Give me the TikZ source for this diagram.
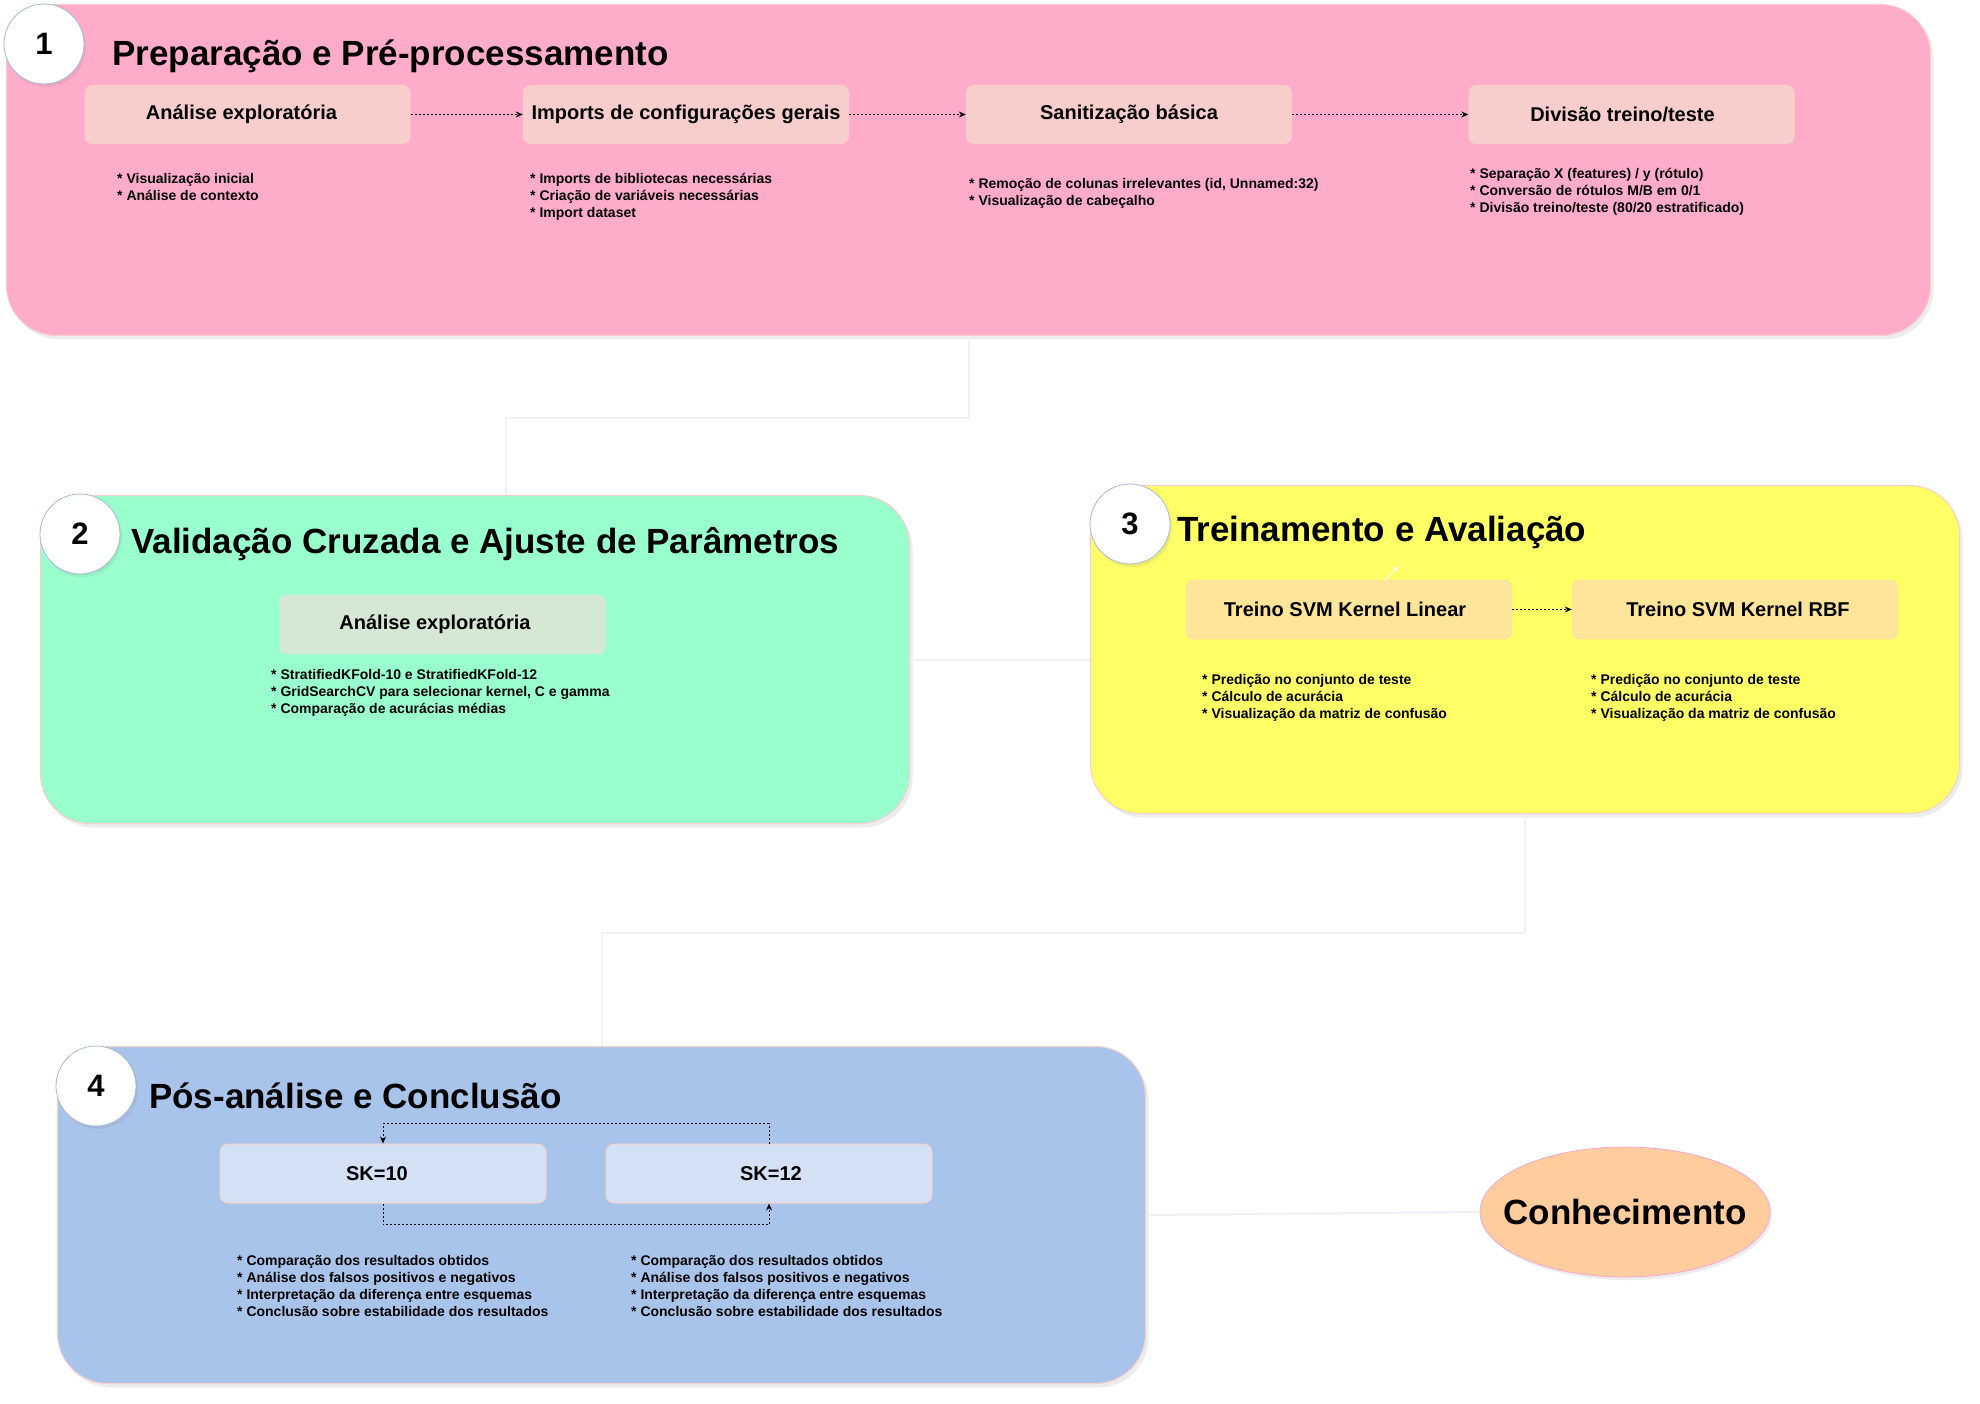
\documentclass[tikz,border=0pt]{standalone}
\usepackage{fontspec}
\setmainfont{Liberation Sans}
\usetikzlibrary{arrows.meta,shadows,shapes.geometric}
\definecolor{cpink}{HTML}{FFACCA}
\definecolor{cgreen}{HTML}{99FFCC}
\definecolor{cyellow}{HTML}{FFFF66}
\definecolor{cblue}{HTML}{A9C4EB}
\definecolor{cbord}{HTML}{F8CECC}
\definecolor{bpink}{HTML}{F8CECC}
\definecolor{bgreen}{HTML}{D5E8D4}
\definecolor{byellow}{HTML}{FFE599}
\definecolor{bblue}{HTML}{D4E1F5}
\definecolor{corange}{HTML}{FFCC9E}
\definecolor{linkcol}{HTML}{F0F0F5}
\definecolor{circbord}{HTML}{A9BAD2}
\begin{document}
\begin{tikzpicture}[x=1pt,y=-1pt,font=\bfseries,
  container/.style={draw=cbord,line width=1pt,rounded corners=50pt,inner sep=0pt,anchor=north west,
    drop shadow={shadow xshift=3pt,shadow yshift=-4pt,opacity=0.15}},
  numc/.style={circle,draw=circbord,line width=0.8pt,fill=white,minimum size=80pt,inner sep=0pt,
    font=\fontsize{31}{31}\selectfont\bfseries,
    drop shadow={shadow xshift=2pt,shadow yshift=-3pt,opacity=0.15}},
  title/.style={anchor=west,inner sep=0pt,font=\fontsize{35}{40}\selectfont\bfseries},
  box/.style={rounded corners=8pt,minimum width=326pt,minimum height=59pt,inner sep=0pt,
    font=\fontsize{20}{24}\selectfont\bfseries},
  note/.style={anchor=north west,align=left,inner sep=0pt,font=\fontsize{14}{17}\selectfont\bfseries},
  darrow/.style={draw=black,line width=0.9pt,dash pattern=on 2pt off 2pt,-{Stealth[length=7pt,width=6pt]}},
  link/.style={draw=linkcol,line width=2pt}
]
\useasboundingbox[fill=white] (0,0) rectangle (1980,1404);

% containers
\node[container,fill=cpink,minimum width=1924pt,minimum height=331pt] (c1) at (6,4) {};
\node[container,fill=cgreen,minimum width=869pt,minimum height=328pt] (c2) at (40,495) {};
\node[container,fill=cyellow,minimum width=869pt,minimum height=328pt] (c3) at (1090,485) {};
\node[container,fill=cblue,minimum width=1088pt,minimum height=337pt] (c4) at (57,1046) {};
\node[ellipse,draw=magenta!35,line width=0.8pt,fill=corange,minimum width=290pt,minimum height=130pt,
  inner sep=0pt,font=\fontsize{35}{40}\selectfont\bfseries,
  drop shadow={shadow xshift=2pt,shadow yshift=-3pt,opacity=0.15}] (know) at (1625,1212) {\makebox[0pt]{Conhecimento}};

% links between stages
\draw[link] (c1.south) -- ++(0,82) -| ([xshift=31pt]c2.north);
\draw[link] (c2.east) -- (c2.east -| c3.west);
\draw[link] (c3.south) -- ++(0,119) -| (c4.north);
\draw[link] (c4.east) -- (know.west);

% number circles
\node[numc] (n1) at (44,44) {1};
\node[numc] (n2) at (80,534) {2};
\node[numc] (n3) at (1130,524) {3};
\node[numc] (n4) at (96,1086) {4};

% titles
\node[title] (t1) at (112,56) {Preparação e Pré-processamento};
\node[title] (t2) at (131,544) {Validação Cruzada e Ajuste de Parâmetros};
\node[title] (t3) at (1177,532) {Treinamento e Avaliação};
\node[title] (t4) at (149,1096) {Pós-análise e Conclusão};

% stage 1
\node[box,fill=bpink] (b1) at (247.5,114.5) {\hspace*{-12pt}Análise exploratória};
\node[box,fill=bpink] (b2) at (686,114.5) {Imports de configurações gerais};
\node[box,fill=bpink] (b3) at (1129,114.5) {Sanitização básica};
\node[box,fill=bpink] (b4) at (1631.5,114.5) {\hspace*{-18pt}Divisão treino/teste};
\draw[darrow] (b1) -- (b2);
\draw[darrow] (b2) -- (b3);
\draw[darrow] (b3) -- (b4);
\node[note] (nb1) at (117,173) {* Visualização inicial\\* Análise de contexto};
\node[note] (nb2) at (530,173) {* Imports de bibliotecas necessárias\\* Criação de variáveis necessárias\\* Import dataset};
\node[note] (nb3) at (969,178) {* Remoção de colunas irrelevantes (id, Unnamed:32)\\* Visualização de cabeçalho};
\node[note] (nb4) at (1470,168) {*\ Separação X (features) / y (rótulo)\\* Conversão de rótulos M/B em 0/1\\* Divisão treino/teste (80/20 estratificado)};

% stage 2
\node[box,fill=bgreen,draw=black!10] (v1) at (442.5,624.5) {\hspace*{-15pt}Análise exploratória};
\node[note] (nv1) at (271,669) {* StratifiedKFold-10 e StratifiedKFold-12\\* GridSearchCV para selecionar kernel, C e gamma\\* Comparação de acurácias médias};

% stage 3
\node[box,fill=byellow,draw=bpink] (s1) at (1349,609.5) {\hspace*{-8pt}Treino SVM Kernel Linear};
\node[box,fill=byellow,draw=bpink] (s2) at (1735,609.5) {\hspace*{6pt}Treino SVM Kernel RBF};
\draw[darrow] (s1) -- (s2);
\draw[white,line width=1pt,-{Stealth[length=6pt,width=5pt]}] ([xshift=36pt]s1.north) -- ++(14,-14);
\node[note] (ns1) at (1202,674) {* Predição no conjunto de teste\\* Cálculo de acurácia\\* Visualização da matriz de confusão};
\node[note] (ns2) at (1591,674) {* Predição no conjunto de teste\\* Cálculo de acurácia\\* Visualização da matriz de confusão};

% stage 4
\node[box,fill=bblue,draw=bpink,line width=1pt] (k1) at (383,1173.5) {\hspace*{-12pt}SK=10};
\node[box,fill=bblue,draw=bpink,line width=1pt] (k2) at (769,1173.5) {\hspace*{4pt}SK=12};
\draw[darrow] (k2.north) -- ++(0,-20) -| (k1.north);
\draw[darrow] (k1.south) -- ++(0,21) -| (k2.south);
\node[note] (nk1) at (237,1255) {* Comparação dos resultados obtidos\\* Análise dos falsos positivos e negativos\\* Interpretação da diferença entre esquemas\\* Conclusão sobre estabilidade dos resultados};
\node[note] (nk2) at (631,1255) {* Comparação dos resultados obtidos\\* Análise dos falsos positivos e negativos\\* Interpretação da diferença entre esquemas\\* Conclusão sobre estabilidade dos resultados};
\end{tikzpicture}
\end{document}
